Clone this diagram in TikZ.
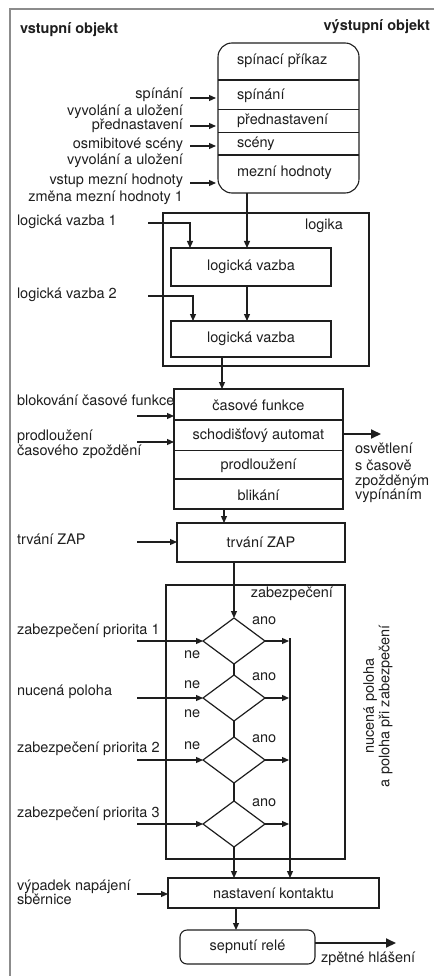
\documentclass[tikz,border=0pt]{standalone}
\usepackage{fontspec}
\setmainfont{TeX Gyre Heros}
\usetikzlibrary{arrows.meta,shapes.geometric}
\definecolor{ink}{RGB}{30,30,30}
\definecolor{framegray}{RGB}{140,140,140}
\newcommand{\dfs}{\fontsize{14.5}{15.5}\selectfont}
\begin{document}
\begin{tikzpicture}[x=1pt,y=-1pt,
  every node/.style={inner sep=0pt, outer sep=0pt, text=ink, font=\dfs},
  box/.style={draw=ink, line width=1.1pt, inner sep=0pt},
  sep/.style={draw=ink, line width=1.2pt},
  septhin/.style={draw=ink, line width=0.7pt},
  arr/.style={draw=ink, line width=1.2pt, -{Triangle[length=7pt,width=6pt]}},
  bigarr/.style={draw=ink, line width=2pt, -{Triangle[length=10pt,width=9pt]}},
  wire/.style={draw=ink, line width=1.2pt},
  lab/.style={anchor=mid west},
  rlab/.style={anchor=mid east},
  hdr/.style={font=\dfs\bfseries},
  decide/.style={diamond, draw=ink, line width=1.2pt, minimum width=62pt, minimum height=46pt, inner sep=0pt},
]
\useasboundingbox (0,0) rectangle (434,976);

% outer frame (top and left edges only)
\draw[framegray, line width=2pt] (434,9.5) -- (10,9.5) -- (10,976);
\node[hdr, anchor=mid west] (hin) at (20,31) {vstupní objekt};
\node[hdr, anchor=mid east] (hout) at (430,28) {výstupní objekt};

% ---- switching command block
\node[box, rounded corners=14pt, minimum width=141pt, minimum height=150pt] (cmd) at (288.5,118) {};
\draw[sep] (cmd.west |- 0,80) -- (cmd.east |- 0,80);
\draw[septhin] (cmd.west |- 0,109) -- (cmd.east |- 0,109);
\draw[septhin] (cmd.west |- 0,132) -- (cmd.east |- 0,132);
\draw[sep] (cmd.west |- 0,155) -- (cmd.east |- 0,155);
\node[lab] (c1) at (237,62) {spínací příkaz};
\node[lab] (c2) at (237,97) {spínání};
\node[lab] (c3) at (237,122) {přednastavení};
\node[lab] (c4) at (237,145) {scény};
\node[lab] (c5) at (237,174) {mezní hodnoty};

\node[rlab] (in1) at (183,96) {spínání};
\node[rlab] (in2a) at (183,113) {vyvolání a uložení};
\node[rlab] (in2b) at (183,127) {přednastavení};
\node[rlab] (in3a) at (183,146) {osmibitové scény};
\node[rlab] (in3b) at (183,162) {vyvolání a uložení};
\node[rlab] (in4a) at (183,182) {vstup mezní hodnoty};
\node[rlab] (in4b) at (183,199) {změna mezní hodnoty 1};
\coordinate (s1) at (190,98);
\coordinate (s2) at (190,126);
\coordinate (s3) at (190,146);
\coordinate (s4) at (190,183);
\foreach \s in {s1,s2,s3,s4}
  \draw[arr, shorten >=2pt] (\s) -- (\s -| cmd.west);

% ---- logic block
\node[box, minimum width=206pt, minimum height=153pt] (logic) at (266,289.5) {};
\node[rlab] (logictxt) at (343,227) {logika};
\node[box, minimum width=160pt, minimum height=38pt] (lv1) at (251,267) {logická vazba};
\node[box, minimum width=160pt, minimum height=36pt] (lv2) at (251,339) {logická vazba};
\draw[arr] (cmd.south -| 247,0) -- (lv1.north -| 247,0);
\draw[arr] (lv1.south -| 247,0) -- (lv2.north -| 247,0);

\node[lab] (lg1) at (17,223) {logická vazba 1};
\node[lab] (lg2) at (17,296) {logická vazba 2};
\coordinate (lg1s) at (148,223);
\coordinate (lg2s) at (148,296);
\draw[arr] (lg1s) -| (lv1.north -| 190,0);
\draw[arr] (lg2s) -| (lv2.north -| 193,0);

% ---- time functions block
\node[box, minimum width=169pt, minimum height=120pt] (time) at (258.5,449) {};
\draw[arr] (lv2.south -| 222,0) -- (time.north -| 222,0);
\draw[sep] (time.west |- 0,420) -- (time.east |- 0,420);
\draw[septhin] (time.west |- 0,450) -- (time.east |- 0,450);
\draw[sep] (time.west |- 0,479) -- (time.east |- 0,479);
\node (tf1) at (258.5,405) {časové funkce};
\node (tf2) at (258.5,435) {schodišťový automat};
\node (tf3) at (258.5,466) {prodloužení};
\node (tf4) at (258.5,495) {blikání};

\node[lab] (blk) at (17,403) {blokování časové funkce};
\node[lab] (ext1) at (17,438) {prodloužení};
\node[lab] (ext2) at (17,453) {časového zpoždění};
\coordinate (blks) at (137,416);
\coordinate (exts) at (137,442);
\draw[arr] (blks) -- (blks -| time.west);
\draw[arr] (exts) -- (exts -| time.west);

\coordinate (lightend) at (381,434);
\draw[bigarr] (time.east |- lightend) -- (lightend);
\node[lab] (o1) at (355,451) {osvětlení};
\node[lab] (o2) at (355,468) {s časově};
\node[lab] (o3) at (355,483) {zpožděným};
\node[lab] (o4) at (355,497) {vypínáním};

% ---- on-duration block
\node[box, minimum width=168pt, minimum height=39pt] (zap) at (261,542.5) {trvání ZAP};
\draw[arr] (time.south -| 224,0) -- (zap.north -| 224,0);
\node[lab] (zapin) at (17,542) {trvání ZAP};
\coordinate (zaps) at (137,542);
\draw[arr] (zaps) -- (zaps -| zap.west);

% ---- safety block
\node[box, minimum width=179pt, minimum height=274pt] (safe) at (255.5,722) {};
\node[rlab] (safetxt) at (333,595) {zabezpečení};
\node[decide] (d1) at (234,641) {};
\node[decide] (d2) at (234,698) {};
\node[decide] (d3) at (234,760) {};
\node[decide] (d4) at (234,824) {};
\draw[arr] (zap.south -| d1.north) -- (d1.north);
\draw[wire] (d1.south) -- (d2.north);
\draw[wire] (d2.south) -- (d3.north);
\draw[wire] (d3.south) -- (d4.north);

\node[lab] (p1) at (17,632) {zabezpečení priorita 1};
\node[lab] (p2) at (17,693) {nucená poloha};
\node[lab] (p3) at (17,750) {zabezpečení priorita 2};
\node[lab] (p4) at (17,815) {zabezpečení priorita 3};
\foreach \d in {d1,d2,d3,d4}{
  \coordinate (\d in) at (\d.west -| 137,0);
  \draw[arr] (\d in) -- (\d.west);
}

\coordinate (bus) at (290,638);
\foreach \d in {d1,d2,d3,d4}
  \draw[arr, shorten >=1pt] (\d.east) -- (\d.east -| bus);

\node[lab] (a1) at (252,622) {ano};
\node[lab] (a2) at (252,678) {ano};
\node[lab] (a3) at (252,740) {ano};
\node[lab] (a4) at (252,804) {ano};
\node[lab] (n1) at (184,656) {ne};
\node[lab] (n2) at (184,686) {ne};
\node[lab] (n3) at (184,715) {ne};
\node[lab] (n4) at (184,747) {ne};

\node[rotate=90, align=center] (rot) at (378,706) {nucená poloha\\a poloha při zabezpečení};

% ---- contact setting and relay
\node[box, minimum width=211pt, minimum height=30pt] (contact) at (273.5,893) {nastavení kontaktu};
\draw[arr] (bus) -- (contact.north -| bus);
\draw[arr] (d4.south) -- (contact.north -| d4.south);
\node[lab] (pw1) at (17,888) {výpadek napájení};
\node[lab] (pw2) at (17,902) {sběrnice};
\coordinate (pws) at (137,894);
\draw[arr] (pws) -- (pws -| contact.west);

\node[box, rounded corners=7pt, minimum width=135pt, minimum height=34pt] (relay) at (247.5,947) {sepnutí relé};
\draw[arr] (contact.south -| 236,0) -- (relay.north -| 236,0);
\coordinate (fb) at (396,943);
\draw[bigarr] (relay.east |- fb) -- (fb);
\node[lab] (fbtxt) at (321,960) {zpětné hlášení};
\end{tikzpicture}
\end{document}
